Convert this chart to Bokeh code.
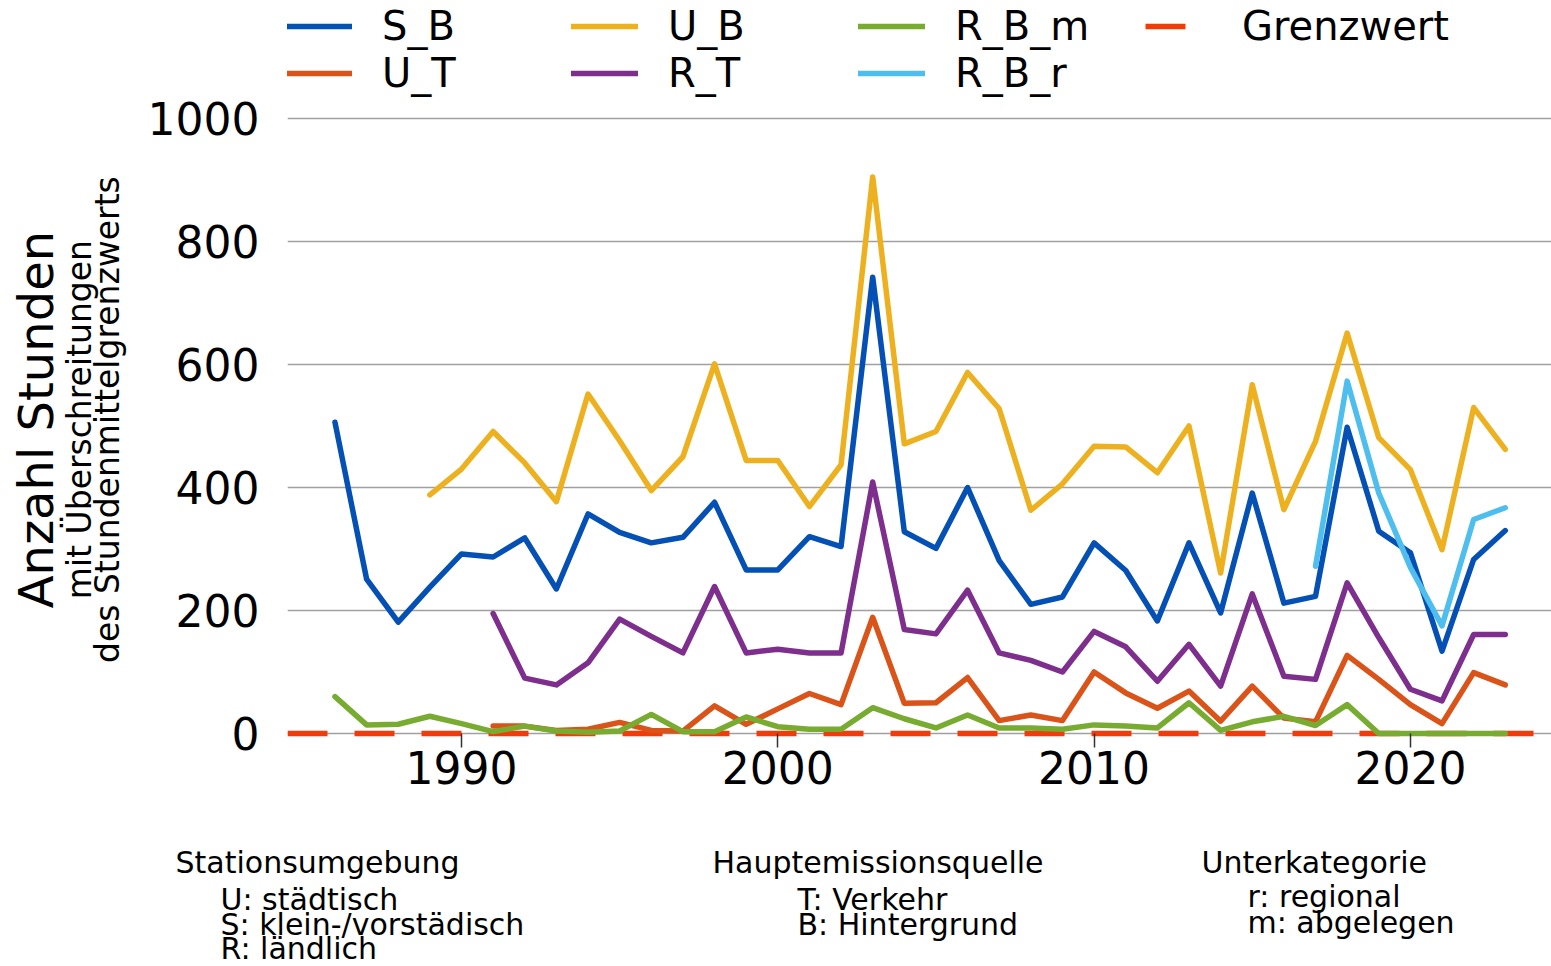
import math
from bokeh.plotting import figure
from bokeh.layouts import row, column
from bokeh.models import Range1d, Legend, LegendItem, FixedTicker
from bokeh.core.properties import value
from bokeh.embed import file_html
from bokeh.resources import INLINE

# ---------------- data ----------------
years_s_b = list(range(1986, 2024))
s_b = [506, 251, 181, 238, 292, 287, 318, 235, 357, 327, 310, 319, 376,
       266, 266, 320, 304, 742, 328, 301, 400, 281, 210, 222, 310,
       265, 183, 310, 196, 391, 212, 223, 498, 329, 294, 134, 283, 330]

years_u_t = list(range(1991, 2024))
u_t = [12, 12, 5, 7, 18, 5, 4, 45,
       15, 40, 65, 47, 189, 49, 50, 91, 21, 30, 21, 100,
       66, 41, 69, 20, 77, 25, 19, 127, 88, 47, 16, 99, 79]

years_u_b = list(range(1989, 2024))
u_b = [388, 430, 491, 440, 377, 552, 476, 395, 450, 601,
       444, 444, 369, 437, 905, 471, 491, 587, 528, 363, 406, 467,
       466, 424, 500, 261, 567, 364, 475, 651, 481, 429, 299, 530, 462]

years_r_t = list(range(1991, 2024))
r_t = [195, 90, 79, 115, 186, 158, 131, 239,
       131, 137, 131, 131, 409, 169, 162, 233, 131, 119, 100, 166,
       141, 85, 145, 77, 227, 93, 88, 245, 156, 72, 53, 161, 161]

years_r_b_m = list(range(1986, 2024))
r_b_m = [60, 14, 15, 28, 16, 3, 12, 4, 2, 4, 31, 3, 3,
         27, 11, 7, 7, 42, 24, 9, 30, 9, 9, 7, 14,
         12, 9, 50, 5, 19, 28, 13, 47, 0, 0, 0, 0, 0]

years_r_b_r = list(range(2017, 2024))
r_b_r = [272, 573, 391, 270, 175, 348, 367]

grenzwert_value = 0

y_ticks = [0, 200, 400, 600, 800, 1000]
x_ticks = [1990, 2000, 2010, 2020]

series_names = ["S_B", "U_T", "U_B", "R_T", "R_B_m", "R_B_r", "Grenzwert"]
colors = {"S_B": "#0450B4", "U_T": "#DA5319", "U_B": "#EDB120", "R_T": "#7E2F8E",
          "R_B_m": "#77AC30", "R_B_r": "#4DBEEE", "Grenzwert": "#F03C0A"}

y_titles = ["Anzahl Stunden", "mit Überschreitungen", "des Stundenmittelgrenzwerts"]

note_heads = ["Stationsumgebung", "Hauptemissionsquelle", "Unterkategorie"]
note_lines = [["U: städtisch", "S: klein-/vorstädisch", "R: ländlich"],
              ["T: Verkehr", "B: Hintergrund"],
              ["r: regional", "m: abgelegen"]]

FONT = "DejaVu Sans"

# ---------------- layout constants (pixels) ----------------
W, H = 1551, 966
TOP_H = 810               # height of the upper row
LEFT_W = 140              # width of the y-title strip
FRAME_LEFT = 287          # frame left edge on the page
FRAME_BOTTOM = 738        # frame bottom edge on the page
PX_PER_UNIT = 0.615
PX_PER_YEAR = 31.63
X_REF_YEAR, X_REF_PX = 1990, 461

X_START = X_REF_YEAR - (X_REF_PX - FRAME_LEFT) / PX_PER_YEAR
X_END = X_REF_YEAR + (W - X_REF_PX) / PX_PER_YEAR
Y_START = -(FRAME_BOTTOM - 733) / PX_PER_UNIT
Y_END = Y_START + FRAME_BOTTOM / PX_PER_UNIT

# ---------------- main figure ----------------
p = figure(width=W - LEFT_W, height=TOP_H, output_backend="svg", toolbar_location=None,
           x_range=Range1d(X_START, X_END), y_range=Range1d(Y_START, Y_END),
           min_border_left=FRAME_LEFT - LEFT_W, min_border_right=0, min_border_top=0,
           min_border_bottom=TOP_H - FRAME_BOTTOM)
p.outline_line_color = None
p.background_fill_color = "white"
p.border_fill_color = "white"

p.xgrid.visible = False
p.ygrid.ticker = FixedTicker(ticks=y_ticks)
p.ygrid.grid_line_color = "#A0A0A0"
p.ygrid.grid_line_width = 1.5

p.yaxis.ticker = FixedTicker(ticks=y_ticks)
p.yaxis.axis_line_color = None
p.yaxis.major_tick_line_color = None
p.yaxis.minor_tick_line_color = None
p.yaxis.major_tick_in = 0
p.yaxis.major_tick_out = 0
p.yaxis.major_label_standoff = 28
p.yaxis.major_label_text_font = FONT
p.yaxis.major_label_text_font_size = "44px"
p.yaxis.major_label_text_color = "black"

p.xaxis.ticker = FixedTicker(ticks=x_ticks)
p.xaxis.axis_line_color = None
p.xaxis.minor_tick_line_color = None
p.xaxis.major_tick_in = 5
p.xaxis.major_tick_out = 9
p.xaxis.major_tick_line_color = "#333333"
p.xaxis.major_tick_line_width = 1.5
p.xaxis.major_label_standoff = 3
p.xaxis.major_label_text_font = FONT
p.xaxis.major_label_text_font_size = "44px"
p.xaxis.major_label_text_color = "black"

renderers = {}
renderers["Grenzwert"] = p.line([X_START, X_END], [grenzwert_value, grenzwert_value],
                                line_color=colors["Grenzwert"], line_width=5.5,
                                line_dash="40 27")
data = {"S_B": (years_s_b, s_b), "U_T": (years_u_t, u_t), "U_B": (years_u_b, u_b),
        "R_T": (years_r_t, r_t), "R_B_m": (years_r_b_m, r_b_m), "R_B_r": (years_r_b_r, r_b_r)}
for name in ["S_B", "U_T", "U_B", "R_T", "R_B_m", "R_B_r"]:
    xs, ys = data[name]
    renderers[name] = p.line(xs, ys, line_color=colors[name], line_width=5.5,
                             line_join="round", line_cap="round")

# legend: one box per entry, arranged in a grid above the 1000 line
ITEM_H = 46
col_x = [285, 571, 858, 1145]
row_y = [26, 73]
grid_pos = {"S_B": (0, 0), "U_T": (0, 1), "U_B": (1, 0), "R_T": (1, 1),
            "R_B_m": (2, 0), "R_B_r": (2, 1), "Grenzwert": (3, 0)}
for name in series_names:
    c, r = grid_pos[name]
    loc = (col_x[c] - FRAME_LEFT, FRAME_BOTTOM - row_y[r] - ITEM_H / 2)
    leg = Legend(items=[LegendItem(label=name, renderers=[renderers[name]])],
                 location=loc, orientation="vertical",
                 padding=0, margin=0, spacing=0,
                 border_line_color=None, background_fill_alpha=0,
                 glyph_width=67, glyph_height=ITEM_H, label_height=ITEM_H,
                 label_standoff=30, label_text_font=FONT,
                 label_text_font_size="40px", label_text_color="black")
    p.add_layout(leg)

# ---------------- y-title strip ----------------
yt = figure(width=LEFT_W, height=TOP_H, output_backend="svg", toolbar_location=None,
            x_range=Range1d(0, LEFT_W), y_range=Range1d(0, TOP_H),
            min_border=0, x_axis_type=None, y_axis_type=None)
yt.outline_line_color = None
yt.grid.visible = False
title_x = [35, 79, 107]
title_y = [TOP_H - 460] * 3
title_sizes = ["48px", "33px", "33px"]
for t, x, y, s in zip(y_titles, title_x, title_y, title_sizes):
    yt.text(x=[x], y=[y], text=[t], angle=math.pi / 2, text_align="center",
            text_baseline="alphabetic", text_font=value(FONT),
            text_font_size=value(s), text_color="black")

# ---------------- notes strip ----------------
NOTES_H = H - TOP_H
nf = figure(width=W, height=NOTES_H, output_backend="svg", toolbar_location=None,
            x_range=Range1d(0, W), y_range=Range1d(0, NOTES_H),
            min_border=0, x_axis_type=None, y_axis_type=None)
nf.outline_line_color = None
nf.grid.visible = False
head_x = [175, 712, 1201]
line_x = [220, 797, 1247]
head_base = 862
line_bases = [[899, 924, 948], [899, 924], [896, 922]]
tx, ty, tt = [], [], []
for hx, lx, head, lines, bases in zip(head_x, line_x, note_heads, note_lines, line_bases):
    tx.append(hx); ty.append(H - head_base); tt.append(head)
    for t, b in zip(lines, bases):
        tx.append(lx); ty.append(H - b); tt.append(t)
nf.text(x=tx, y=ty, text=tt, text_align="left", text_baseline="alphabetic",
        text_font=value(FONT), text_font_size=value("30px"), text_color="black")

layout = column(row(yt, p), nf)
open("out.html", "w").write(file_html(layout, INLINE))
